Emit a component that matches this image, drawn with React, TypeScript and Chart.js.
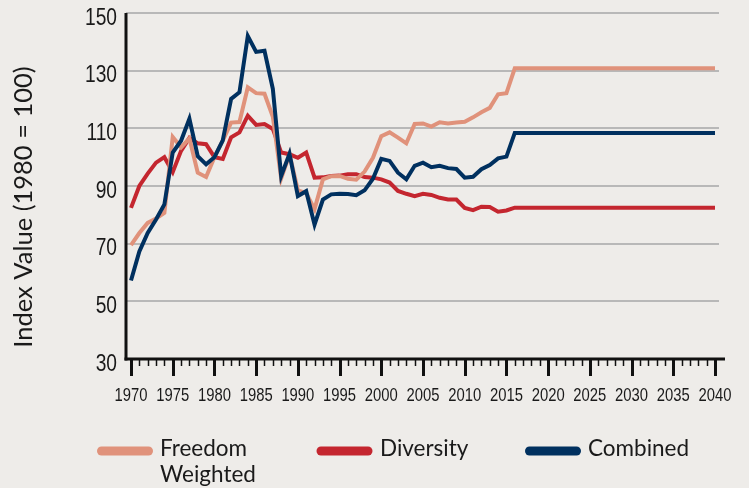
import React, { useEffect, useRef } from "react";
import { Chart, registerables } from "chart.js";

Chart.register(...registerables);

const years = [
  1970, 1971, 1972, 1973, 1974, 1975, 1976, 1977, 1978, 1979,
  1980, 1981, 1982, 1983, 1984, 1985, 1986, 1987, 1988, 1989,
  1990, 1991, 1992, 1993, 1994, 1995, 1996, 1997, 1998, 1999,
  2000, 2001, 2002, 2003, 2004, 2005, 2006, 2007, 2008, 2009,
  2010, 2011, 2012, 2013, 2014, 2015, 2016, 2040,
];

const freedomWeighted = [
  69.5, 73.7, 77.2, 78.7, 80.7, 107, 103.4, 106.5, 94.6, 93.1,
  100, 105.7, 112, 112.2, 124.2, 122.2, 122, 114, 92.6, 101,
  88.5, 87.5, 82, 92.3, 93.4, 93.5, 92.5, 92.2, 95, 99.8,
  107.3, 108.6, 106.8, 104.8, 111.5, 111.7, 110.6, 112.1, 111.7, 112,
  112.3, 113.8, 115.6, 117.1, 121.8, 122.2, 130.8, 130.8,
];

const diversity = [
  82.4, 90, 94.3, 98.1, 100, 94.8, 102.2, 106.7, 104.8, 104.5,
  100, 99.4, 106.9, 108.6, 114.4, 111.2, 111.5, 109.8, 101.6, 101,
  99.8, 101.6, 92.9, 93, 93.5, 93.6, 94.1, 94.1, 93.1, 92.9,
  92.3, 91.2, 88.3, 87.3, 86.5, 87.3, 86.9, 85.9, 85.3, 85.3,
  82.4, 81.6, 82.8, 82.7, 81.1, 81.5, 82.5, 82.5,
];

const combined = [
  57.2, 67.3, 73.7, 78.4, 83.6, 101.6, 105.7, 113.3, 100.3, 97.5,
  100, 105.8, 120.2, 122.5, 142, 136.5, 136.9, 123.7, 93.5, 101.2,
  86.5, 88.2, 76.6, 85.3, 87.1, 87.3, 87.2, 86.8, 88.5, 92.5,
  99.4, 98.7, 94.6, 92.3, 97, 98.1, 96.5, 97, 96.2, 95.9,
  92.9, 93.2, 95.8, 97.3, 99.6, 100.2, 108.4, 108.4,
];

const xTickLabels = [1970, 1975, 1980, 1985, 1990, 1995, 2000, 2005, 2010, 2015, 2020, 2025, 2030, 2035, 2040];
const yTickLabels = [30, 50, 70, 90, 110, 130, 150];
const yTitle = "Index Value (1980 = 100)";

const legendItems = [
  { lines: ["Freedom", "Weighted"], color: "#e0927b" },
  { lines: ["Diversity"], color: "#c4262f" },
  { lines: ["Combined"], color: "#00305f" },
];

const BG = "#eeece9";
const NARROW = '"Liberation Sans", Arial, sans-serif';
const AVENIR = 'Lato, "Noto Sans", sans-serif';

function drawScaled(ctx: CanvasRenderingContext2D, text: string, x: number, y: number, sx: number, align: "left" | "right" | "center") {
  const w = ctx.measureText(text).width * sx;
  let left = x;
  if (align === "right") left = x - w;
  else if (align === "center") left = x - w / 2;
  ctx.save();
  ctx.translate(left, y);
  ctx.scale(sx, 1);
  ctx.textAlign = "left";
  ctx.fillText(text, 0, 0);
  ctx.restore();
}

export default function App() {
  const ref = useRef<HTMLCanvasElement | null>(null);

  useEffect(() => {
    document.body.style.margin = "0";
    const canvas = ref.current;
    if (!canvas) return;

    const mk = (arr: number[]) => years.map((y, i) => ({ x: y, y: arr[i] }));

    const decor = {
      id: "decor",
      beforeDraw(chart: any) {
        const ctx = chart.ctx;
        ctx.save();
        ctx.fillStyle = BG;
        ctx.fillRect(0, 0, chart.width, chart.height);
        ctx.restore();
      },
      afterDraw(chart: any) {
        const ctx: CanvasRenderingContext2D = chart.ctx;
        const xs = chart.scales.x;
        const ys = chart.scales.y;
        const area = chart.chartArea;
        const bottom = ys.getPixelForValue(30);
        ctx.save();
        ctx.strokeStyle = "#111";
        ctx.lineCap = "butt";
        // tick marks
        for (let yr = 1970; yr <= 2040; yr++) {
          const px = Math.round(xs.getPixelForValue(yr)) + 0.5;
          const major = yr % 5 === 0;
          ctx.lineWidth = major ? 3 : 1.5;
          ctx.beginPath();
          ctx.moveTo(px, bottom);
          ctx.lineTo(px, bottom + (major ? 17 : 7));
          ctx.stroke();
        }
        // axis lines
        ctx.lineWidth = 3;
        ctx.beginPath();
        ctx.moveTo(area.left - 1.5, bottom);
        ctx.lineTo(area.right + 6, bottom);
        ctx.stroke();
        ctx.beginPath();
        ctx.moveTo(area.left, area.top);
        ctx.lineTo(area.left, bottom + 1.5);
        ctx.stroke();

        ctx.fillStyle = "#1a1a1a";
        ctx.textBaseline = "alphabetic";
        // x tick labels
        ctx.font = `19px ${NARROW}`;
        xTickLabels.forEach((v) => {
          drawScaled(ctx, String(v), xs.getPixelForValue(v), 401, 0.78, "center");
        });
        // y tick labels
        ctx.font = `24px ${NARROW}`;
        yTickLabels.forEach((v) => {
          drawScaled(ctx, String(v), 117, ys.getPixelForValue(v) + 11.5, 0.8, "right");
        });

        // y title
        ctx.font = `25.5px ${AVENIR}`;
        ctx.textAlign = "center";
        ctx.textBaseline = "middle";
        ctx.save();
        ctx.translate(24, 207);
        ctx.rotate(-Math.PI / 2);
        ctx.fillText(yTitle, 0, 0);
        ctx.restore();

        // legend
        const legX = [101.5, 321, 529.5];
        const legTextX = [160, 380, 588];
        ctx.lineCap = "round";
        ctx.lineWidth = 9;
        ctx.font = `22.5px ${AVENIR}`;
        ctx.textAlign = "left";
        ctx.textBaseline = "alphabetic";
        legendItems.forEach((it, i) => {
          ctx.strokeStyle = it.color;
          ctx.beginPath();
          ctx.moveTo(legX[i], 451);
          ctx.lineTo(legX[i] + 47, 451);
          ctx.stroke();
          it.lines.forEach((t, j) => {
            ctx.fillText(t, legTextX[i], 456 + j * 26);
          });
        });
        ctx.restore();
      },
    };

    const chart = new Chart(canvas, {
      type: "line",
      data: {
        datasets: [
          { label: "Combined", data: mk(combined), borderColor: "#00305f", order: 0 },
          { label: "Freedom Weighted", data: mk(freedomWeighted), borderColor: "#e0927b", order: 1 },
          { label: "Diversity", data: mk(diversity), borderColor: "#c4262f", order: 2 },
        ].map((d) => ({
          ...d,
          borderWidth: 4,
          pointRadius: 0,
          tension: 0,
          fill: false,
          borderJoinStyle: "miter" as const,
        })),
      },
      options: {
        responsive: false,
        animation: false,
        devicePixelRatio: 1,
        layout: { padding: { top: 13, right: 30, left: 0, bottom: 0 } },
        plugins: { legend: { display: false }, tooltip: { enabled: false } },
        scales: {
          x: {
            type: "linear",
            min: 1969.4,
            max: 2040.48,
            afterBuildTicks: (s: any) => {
              s.ticks = xTickLabels.map((v) => ({ value: v }));
            },
            afterFit: (s: any) => {
              s.height = 129;
            },
            grid: { display: false, drawTicks: false },
            border: { display: false },
            ticks: { display: false },
          },
          y: {
            min: 30,
            max: 150,
            afterBuildTicks: (s: any) => {
              s.ticks = yTickLabels.map((v) => ({ value: v }));
            },
            afterFit: (s: any) => {
              s.width = 126;
            },
            grid: { color: "#b8b8b8", lineWidth: 2, drawTicks: false },
            border: { display: false },
            ticks: { display: false },
          },
        },
      },
      plugins: [decor],
    });

    return () => chart.destroy();
  }, []);

  return (
    <div style={{ position: "absolute", left: 0, top: 0, width: 749, height: 488, background: BG }}>
      <canvas ref={ref} width={749} height={488} style={{ display: "block", width: 749, height: 488 }} />
    </div>
  );
}
